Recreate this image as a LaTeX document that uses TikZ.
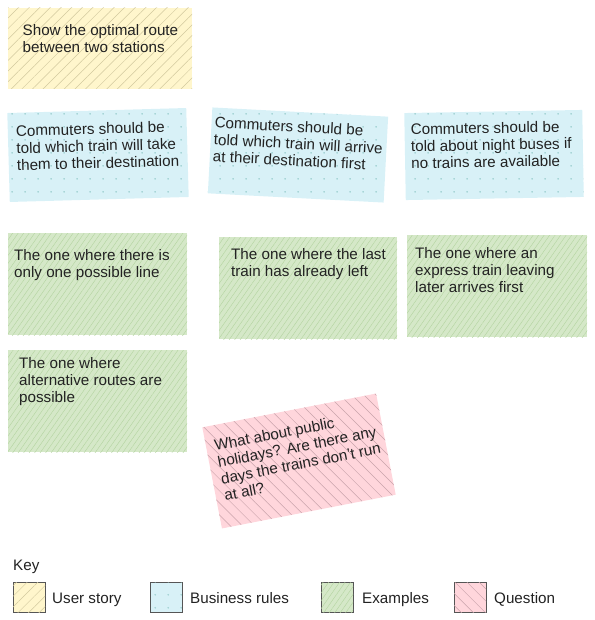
\documentclass[tikz,border=0pt]{standalone}
\usepackage{fontspec}
\setmainfont{Liberation Sans}
\usetikzlibrary{patterns.meta}
\definecolor{storyfill}{HTML}{FFF6CC}
\definecolor{storyline}{HTML}{D2C99E}
\definecolor{rulefill}{HTML}{D8F1F7}
\definecolor{ruledot}{HTML}{96CCCC}
\definecolor{examplefill}{HTML}{D5E8C8}
\definecolor{exampleline}{HTML}{B3D4A0}
\definecolor{questionfill}{HTML}{FFD6DC}
\definecolor{questionline}{HTML}{C9A3AB}
\definecolor{notetext}{HTML}{222222}
\definecolor{swatchline}{HTML}{555555}
\begin{document}
\begin{tikzpicture}[x=1pt,y=-1pt,
 card/.style={anchor=north west,inner sep=0pt,outer sep=0pt,minimum width=179pt,minimum height=102pt},
 story/.style={card,fill=storyfill,postaction={pattern={Lines[angle=45,distance=7.5pt,line width=0.5pt]},pattern color=storyline}},
 rule/.style={card,fill=rulefill,postaction={pattern={Dots[distance=13pt,radius=0.9pt]},pattern color=ruledot}},
 example/.style={card,fill=examplefill,postaction={pattern={Lines[angle=55,distance=4.5pt,line width=0.4pt]},pattern color=exampleline}},
 question/.style={card,fill=questionfill,postaction={pattern={Lines[angle=-45,distance=8.5pt,line width=0.5pt]},pattern color=questionline}},
 note/.style={anchor=north west,inner sep=0pt,align=left,text=notetext,font=\fontsize{15.2}{17}\selectfont},
 swatch/.style={draw=swatchline,line width=1pt,minimum width=32pt,minimum height=30pt}]
\useasboundingbox (0,0) rectangle (594,620);
% user story
\node[story,minimum width=184pt,minimum height=81pt] (story) at (8,8) {};
\node[note] (storytxt) at (22.5,24) {Show the optimal route\\between two stations};
% business rules
\begin{scope}[rotate around={1.6:(98,155)},transform shape]
 \node[rule,anchor=center,minimum height=89pt] (rule1) at (98,155) {};
 \node[note] (rule1txt) at (16.5,123) {Commuters should be\\told which train will take\\them to their destination};
\end{scope}
\begin{scope}[rotate around={-3:(298,155)},transform shape]
 \node[rule,anchor=center,minimum width=176pt,minimum height=86pt] (rule2) at (298,155) {};
 \node[note] (rule2txt) at (213,121) {Commuters should be\\told which train will arrive\\at their destination first};
\end{scope}
\begin{scope}[rotate around={1:(494,155)},transform shape]
 \node[rule,anchor=center,minimum width=178pt,minimum height=87pt] (rule3) at (494,155) {};
 \node[note] (rule3txt) at (411,122) {Commuters should be\\told about night buses if\\no trains are available};
\end{scope}
% examples
\node[example] (ex1) at (8,233) {};
\node[note] (ex1txt) at (14,249) {The one where there is\\only one possible line};
\node[example,minimum width=178pt] (ex2) at (219,237) {};
\node[note] (ex2txt) at (231,248) {The one where the last\\train has already left};
\node[example,minimum width=180pt] (ex3) at (407,235) {};
\node[note] (ex3txt) at (415,247) {The one where an\\express train leaving\\later arrives first};
\node[example] (ex4) at (8,350) {};
\node[note] (ex4txt) at (19,357) {The one where\\alternative routes are\\possible};
% question
\begin{scope}[rotate around={11:(299,461)},transform shape]
 \node[question,anchor=center,minimum width=177pt,minimum height=103pt] (q1) at (299,461) {};
 \node[note] (q1txt) at (219,424) {What about public\\holidays? Are there any\\days the trains don't run\\at all?};
\end{scope}
% key
\node[note,anchor=base west] (key) at (13,570) {Key};
\node[story,swatch] (keystory) at (13,582) {};
\node[note,anchor=base west] (keystorytxt) at (52,603.5) {User story};
\node[rule,swatch] (keyrule) at (150,582) {};
\node[note,anchor=base west] (keyruletxt) at (190,603.5) {Business rules};
\node[example,swatch] (keyex) at (321,582) {};
\node[note,anchor=base west] (keyextxt) at (362,603.5) {Examples};
\node[question,swatch] (keyq) at (454,582) {};
\node[note,anchor=base west] (keyqtxt) at (494,603.5) {Question};
\end{tikzpicture}
\end{document}
